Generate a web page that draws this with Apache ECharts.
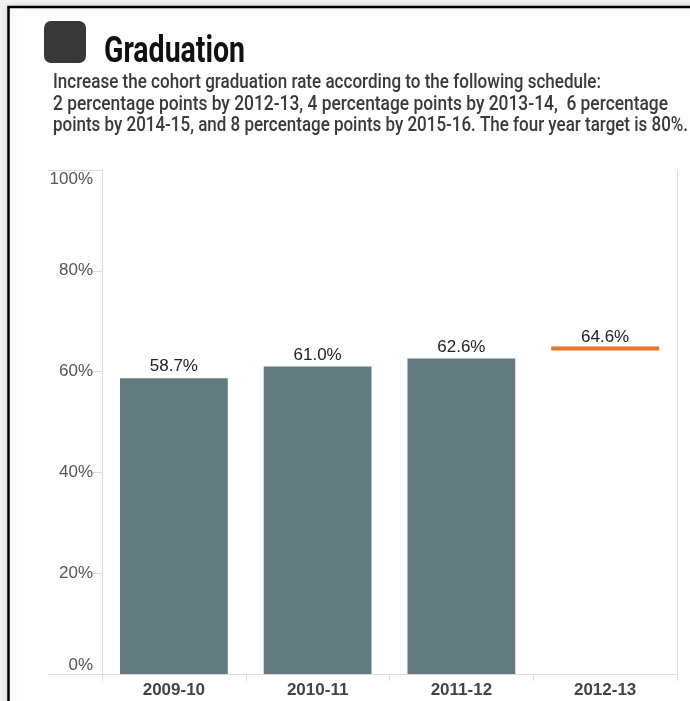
<!DOCTYPE html>
<html>
<head>
<meta charset="utf-8">
<script src="https://cdn.jsdelivr.net/npm/echarts@6/dist/echarts.min.js"></script>
<style>
  html, body { margin: 0; padding: 0; background: #f3f3f3; }
  #chart { width: 690px; height: 701px; }
</style>
</head>
<body>
<div id="chart"></div>
<script>
// ---- data ----
const categories = ['2009-10', '2010-11', '2011-12', '2012-13'];
const actualRates = [58.7, 61.0, 62.6, null];
const targetRates = [null, null, null, 64.6];
const yTickValues = [0, 20, 40, 60, 80, 100];
const titleText = 'Graduation';
const subtitleLines = [
  'Increase the cohort graduation rate according to the following schedule:',
  '2 percentage points by 2012-13, 4 percentage points by 2013-14,  6 percentage',
  'points by 2014-15, and 8 percentage points by 2015-16. The four year target is 80%.'
];

// ---- helpers ----
const HEAD = 'Roboto, "Liberation Sans", Arial, sans-serif';
const SANS = '"Liberation Sans", Arial, Helvetica, sans-serif';
const mctx = document.createElement('canvas').getContext('2d');
function measure(text, size, weight, family) {
  mctx.font = weight + ' ' + size + 'px ' + family;
  return mctx.measureText(text).width;
}
function fittedText(text, x, y, size, weight, color, targetW) {
  const w = measure(text, size, weight, HEAD);
  return {
    type: 'text', x: x, y: y, scaleX: targetW / w, z: 10,
    style: { text: text, fontSize: size, fontWeight: weight, fontFamily: HEAD,
             fill: color, align: 'left', verticalAlign: 'middle' }
  };
}

const chart = echarts.init(document.getElementById('chart'), null, { renderer: 'canvas' });

const gridCol = '#dcdcdc';
const targetData = targetRates.map((v, i) => v == null ? null : [i, v]).filter(d => d);

const option = {
  animation: false,
  backgroundColor: 'transparent',
  grid: { left: 102, right: 13, top: 170, bottom: 27, containLabel: false },
  xAxis: [{
    type: 'category', data: categories, position: 'bottom',
    axisLine: { show: true, lineStyle: { color: gridCol, width: 1 } },
    axisTick: { show: true, length: 7, lineStyle: { color: gridCol } },
    axisLabel: { color: '#444', fontSize: 17, fontWeight: 'bold', fontFamily: SANS, margin: 8 },
    splitLine: { show: false }
  }, {
    type: 'category', data: categories, position: 'top',
    axisLine: { show: true, lineStyle: { color: gridCol, width: 1 } },
    axisTick: { show: false }, axisLabel: { show: false }
  }],
  yAxis: [{
    type: 'value', min: 0, max: 100, interval: 20, position: 'left',
    axisLine: { show: true, lineStyle: { color: gridCol, width: 1 } },
    axisTick: { show: true, length: 9, inside: false, lineStyle: { color: gridCol } },
    splitLine: { show: false },
    axisLabel: {
      margin: 9, color: '#555', fontSize: 17, fontFamily: SANS,
      formatter: function (v) {
        if (v === 100) return '{t|' + v + '%}';
        if (v === 0) return '{b|' + v + '%}';
        return v + '%';
      },
      rich: {
        t: { fontSize: 17, color: '#555', fontFamily: SANS, padding: [18, 0, 0, 0] },
        b: { fontSize: 17, color: '#555', fontFamily: SANS, padding: [0, 0, 17, 0] }
      }
    }
  }, {
    type: 'value', min: 0, max: 100, interval: 20, position: 'right',
    axisLine: { show: true, lineStyle: { color: gridCol, width: 1 } },
    axisTick: { show: false }, axisLabel: { show: false }, splitLine: { show: false }
  }],
  series: [{
    type: 'bar', data: actualRates, barWidth: '75%',
    itemStyle: { color: '#627a80' },
    label: {
      show: true, position: 'top', distance: 3, color: '#222', fontSize: 17, fontFamily: SANS,
      formatter: p => p.value == null ? '' : p.value.toFixed(1) + '%'
    }
  }, {
    type: 'custom', data: targetData, encode: { x: 0, y: 1 },
    renderItem: function (params, api) {
      const v = api.value(1);
      const c = api.coord([api.value(0), v]);
      const w = api.size([1, 0])[0] * 0.75;
      return {
        type: 'group',
        children: [{
          type: 'rect', shape: { x: c[0] - w / 2, y: c[1] - 2, width: w, height: 4 },
          style: { fill: '#e8772e' }
        }, {
          type: 'text', x: c[0], y: c[1] - 3,
          style: { text: v.toFixed(1) + '%', align: 'center', verticalAlign: 'bottom',
                   fontSize: 17, fontFamily: SANS, fill: '#222' }
        }]
      };
    }
  }]
};
chart.setOption(option);

// decorations: frame, icon, title, subtitle, extended baseline/top lines
const y0 = chart.convertToPixel({ yAxisIndex: 0 }, 0);
const y100 = chart.convertToPixel({ yAxisIndex: 0 }, 100);

const graphics = [
  { type: 'rect', z: -100, shape: { x: 8.5, y: 7, width: 720, height: 760 },
    style: { fill: '#ffffff', stroke: '#000', lineWidth: 2.5, shadowBlur: 8, shadowColor: 'rgba(0,0,0,0.12)' } },
  { type: 'rect', z: 10, shape: { x: 44, y: 21, width: 42, height: 42, r: 7 },
    style: { fill: '#383838' } },
  fittedText(titleText, 104, 53, 36, 'bold', '#111', 141),
  fittedText(subtitleLines[0], 53, 82.5, 20, '500', '#3a3a3a', 548),
  fittedText(subtitleLines[1], 53, 104.5, 20, '500', '#3a3a3a', 615),
  fittedText(subtitleLines[2], 53, 126, 20, '500', '#3a3a3a', 635),
  { type: 'line', z: 5, shape: { x1: 48, y1: Math.round(y0) + 0.5, x2: 102, y2: Math.round(y0) + 0.5 },
    style: { stroke: gridCol, lineWidth: 1 } },
  { type: 'line', z: 5, shape: { x1: 48, y1: Math.round(y100) + 0.5, x2: 102, y2: Math.round(y100) + 0.5 },
    style: { stroke: gridCol, lineWidth: 1 } }
];
chart.setOption({ graphic: graphics });
</script>
</body>
</html>
